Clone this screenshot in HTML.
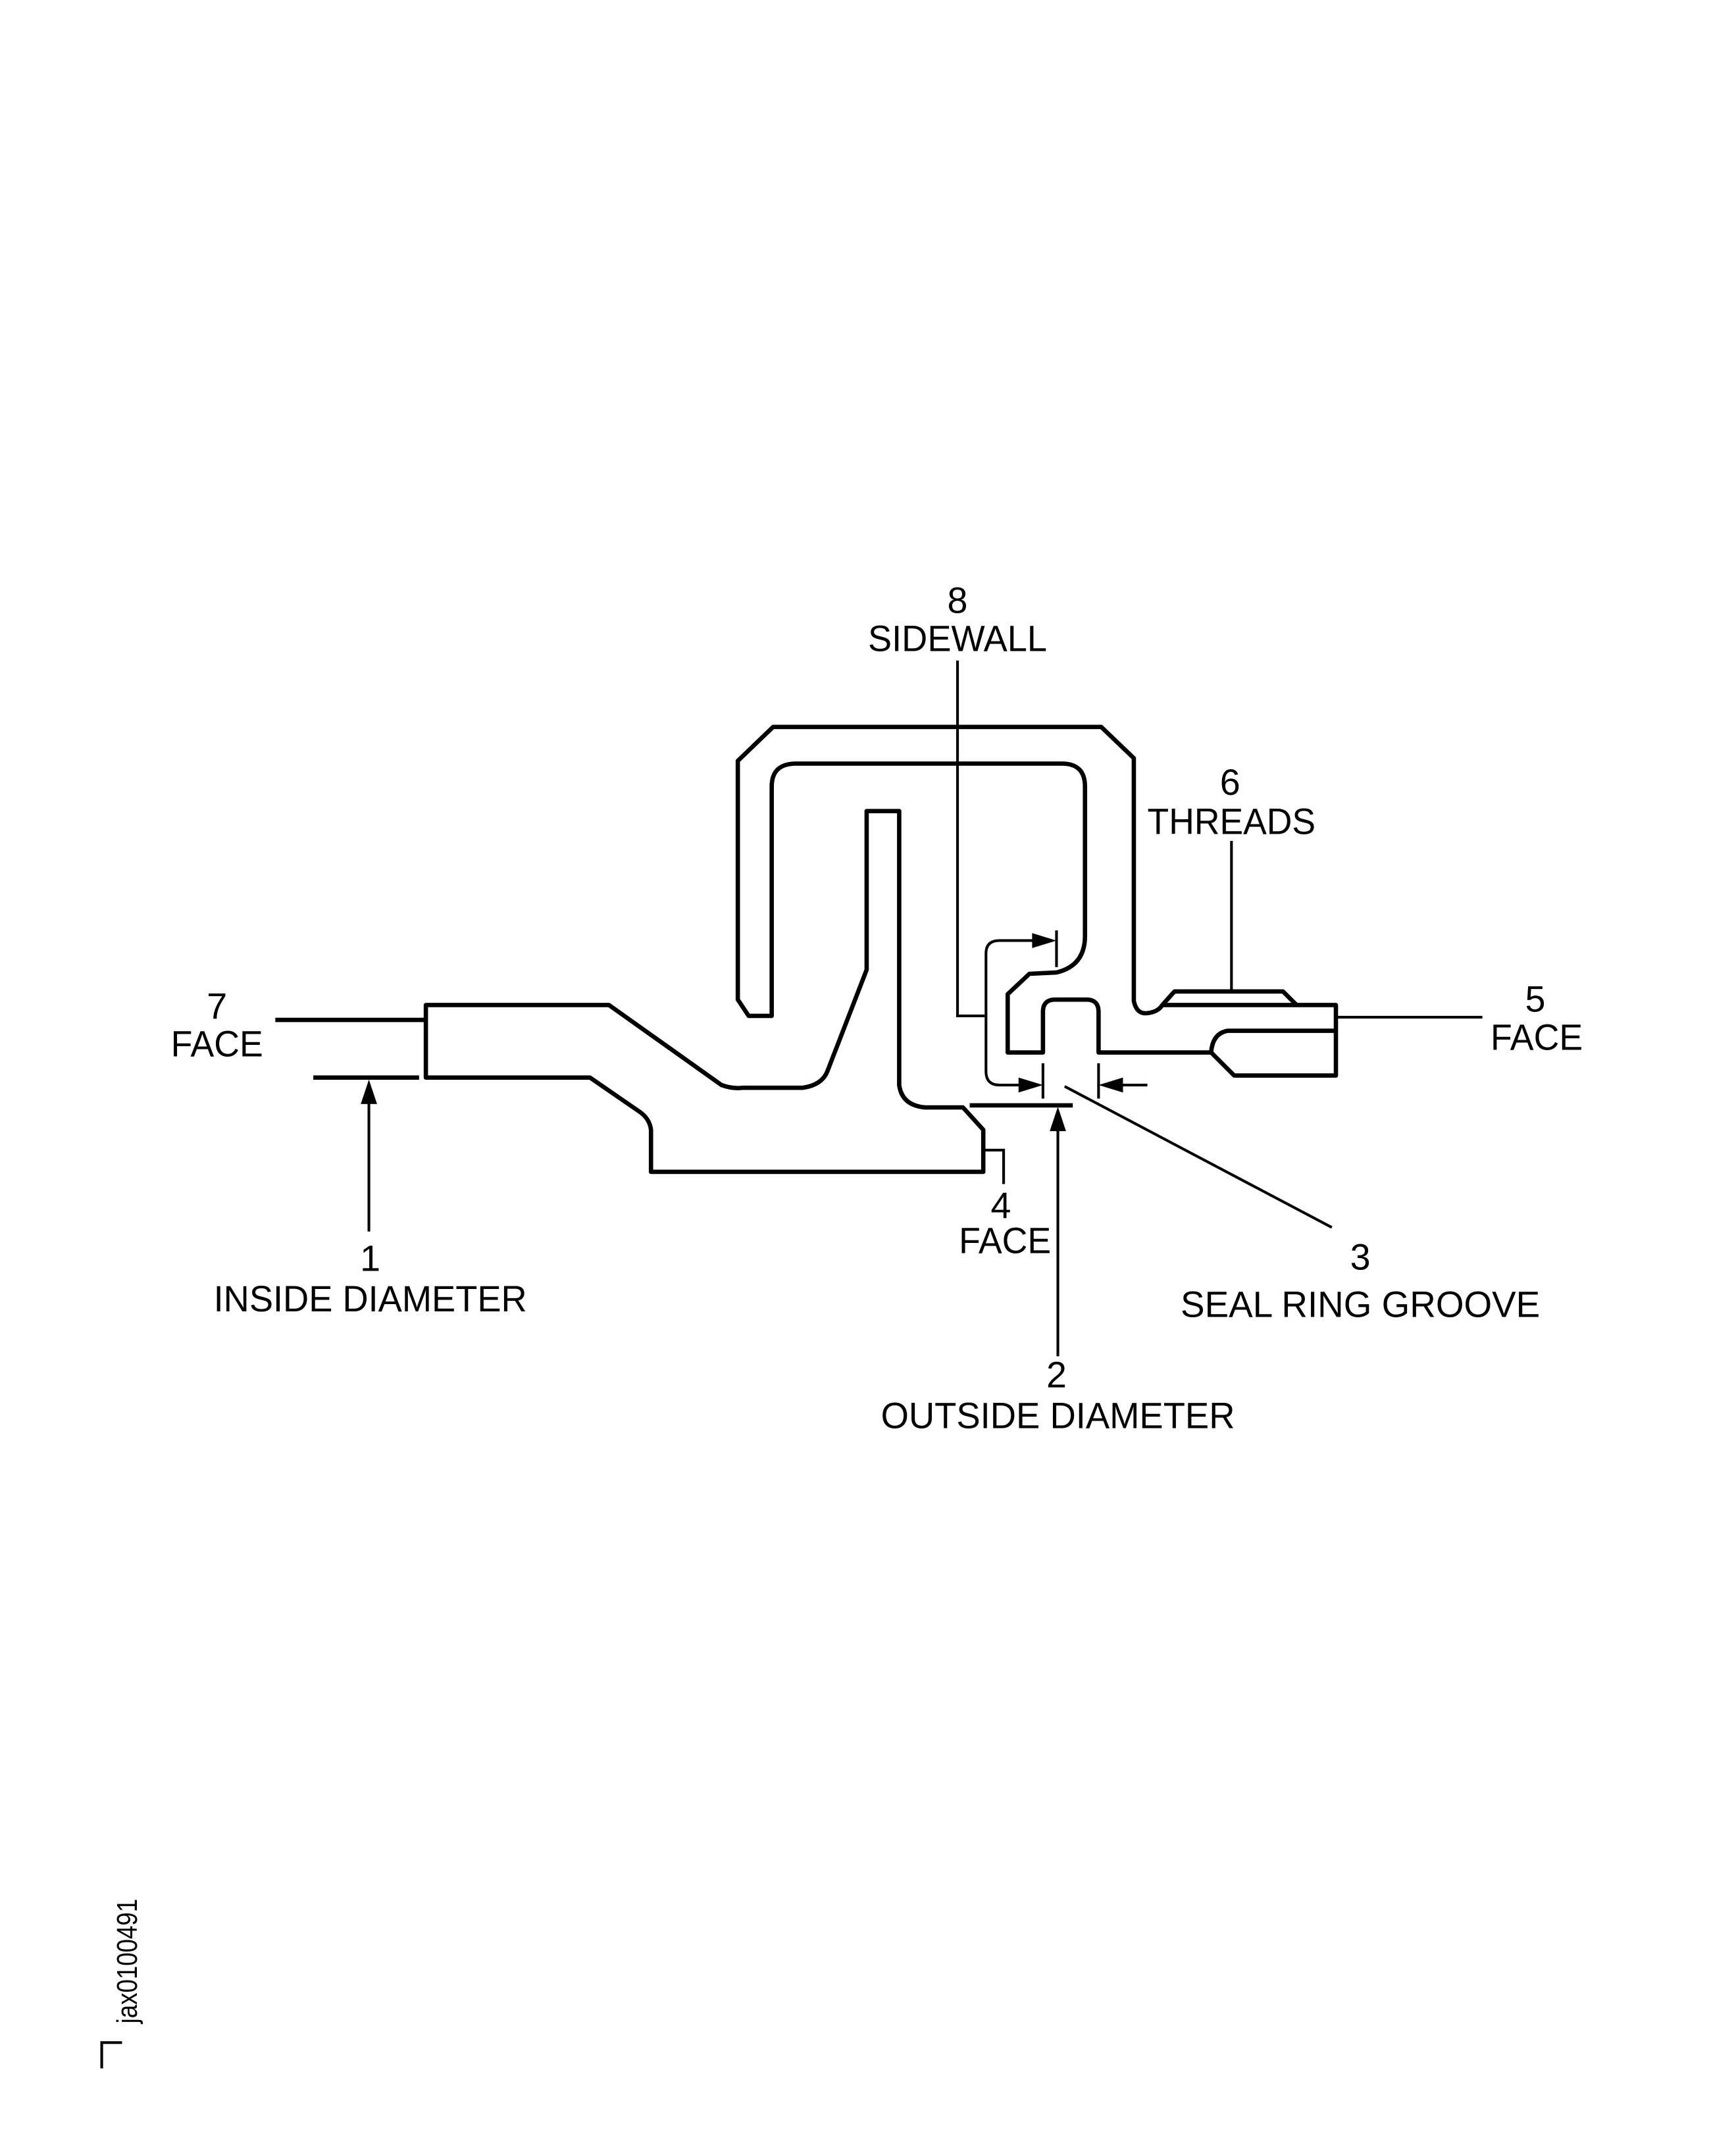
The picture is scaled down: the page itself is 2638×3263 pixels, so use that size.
<!DOCTYPE html>
<html><head><meta charset="utf-8"><style>
html,body{margin:0;padding:0;background:#fff;}
svg{display:block;}
text{font-family:"Liberation Sans",sans-serif;font-size:27px;fill:#000;text-anchor:middle;}
</style></head><body>
<svg width="2638" height="3263" viewBox="0 0 1280 1583" preserveAspectRatio="none" xmlns="http://www.w3.org/2000/svg">
<g fill="none" stroke="#000" stroke-width="3.2" stroke-linejoin="round">
<path d="M552,749 L544,737 L544,561 L570,536 L812,536 L836,559 L836,738 Q838,748 846,747 Q854,746 857,741 L866,731 L946,731 L956,741 L985,741 L985,793 L910,793 L893,776 L810,776 L810,746 Q810,737 801,737 L778,737 Q769,737 769,746 L769,776 L743,776 L743,733 L759,718 L779,717 Q800,712 800,690 L800,580 Q800,563 783,563 L587,563 Q569,563 569,580 L569,749 Z"/>
<path d="M857,741 L956,741"/>
<path d="M893,776 Q894,762 905,760 L985,760"/>
<path d="M314,741 L449,741 L532,800 Q540,803 548,802 L592,802 Q606,800 610,790 L639,715 L639,598 L663,598 L663,800 Q665,815 682,816.5 L710,816.5 L725,833 L725,864 L480,864 L480,833 Q479,825 472,820 L435,794.5 L314,794.5 Z"/>
<path d="M715,815 L791,815"/>
<path d="M203,752 L314,752"/>
<path d="M231,794.5 L309,794.5"/>
</g>
<g fill="none" stroke="#000" stroke-width="2">
<path d="M725,848 L740,848 L740,873"/>
<path d="M780,1000 L780,830"/>
<path d="M272,908 L272,810"/>
<path d="M985,750 L1093,750"/>
<path d="M908,620 L908,731"/>
<path d="M706,487 L706,749 L726,749"/>
<path d="M763,693.5 L737,693.5 Q727,693.5 727,703 L727,790 Q727,800 737,800 L755,800"/>
<path d="M779,686 L779,713"/>
<path d="M769,784 L769,810"/>
<path d="M810,784 L810,810"/>
<path d="M846,800 L824,800"/>
<path d="M785,801 L982,905"/>
<path d="M75,1525 L75,1506 L90,1506"/>
</g>
<g fill="#000">
<polygon points="780,816 774,834 786,834"/>
<polygon points="272,796 266,814 278,814"/>
<polygon points="779,693.5 761,688 761,699"/>
<polygon points="769,800 751,794.5 751,805.5"/>
<polygon points="810,800 828,794.5 828,805.5"/>
</g>
<text x="706" y="452">8</text>
<text x="706" y="480" textLength="132" lengthAdjust="spacingAndGlyphs">SIDEWALL</text>
<text x="907" y="586">6</text>
<text x="908" y="615" textLength="124" lengthAdjust="spacingAndGlyphs">THREADS</text>
<text x="160" y="751">7</text>
<text x="160" y="779" textLength="68" lengthAdjust="spacingAndGlyphs">FACE</text>
<text x="1132" y="746">5</text>
<text x="1133" y="774" textLength="68" lengthAdjust="spacingAndGlyphs">FACE</text>
<text x="738" y="898">4</text>
<text x="741" y="924" textLength="68" lengthAdjust="spacingAndGlyphs">FACE</text>
<text x="273" y="937">1</text>
<text x="273" y="967" textLength="231" lengthAdjust="spacingAndGlyphs">INSIDE DIAMETER</text>
<text x="1003" y="936">3</text>
<text x="1003" y="971" textLength="265" lengthAdjust="spacingAndGlyphs">SEAL RING GROOVE</text>
<text x="779" y="1023">2</text>
<text x="780" y="1053" textLength="261" lengthAdjust="spacingAndGlyphs">OUTSIDE DIAMETER</text>
<text x="0" y="0" transform="translate(101,1446) rotate(-90)" style="font-size:21px" textLength="92" lengthAdjust="spacingAndGlyphs">jax0100491</text>
</svg>
</body></html>
